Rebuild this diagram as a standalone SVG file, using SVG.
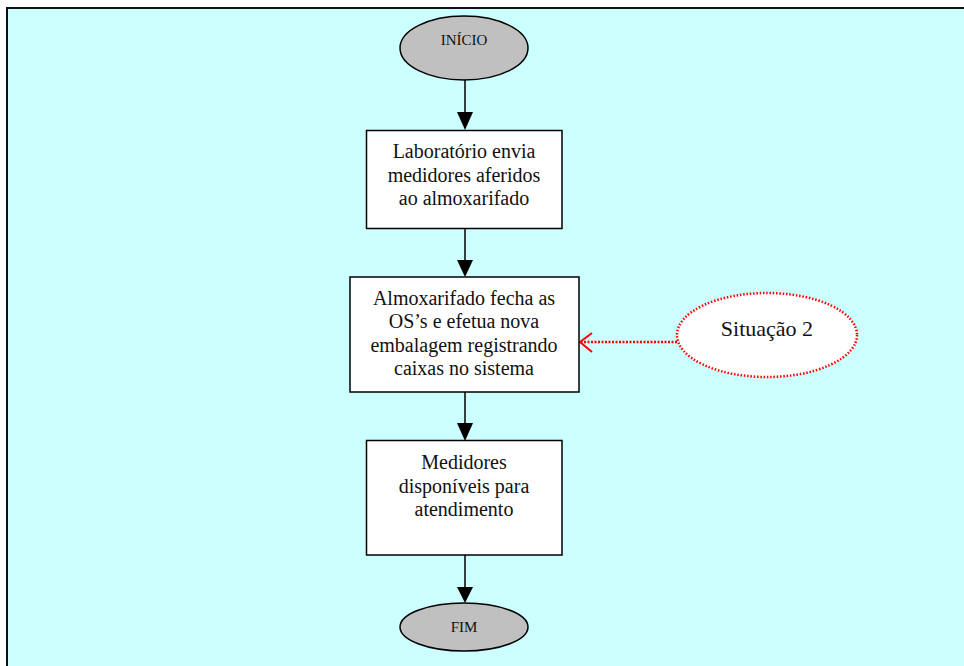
<svg xmlns="http://www.w3.org/2000/svg" width="964" height="666" viewBox="0 0 964 666">
  <style>
    text { font-family: "Liberation Serif", "Times New Roman", serif; fill: #111; text-anchor: middle; }
    .term { fill: #c0c0c0; stroke: #000; stroke-width: 1.5; }
    .box { fill: #fff; stroke: #000; stroke-width: 1.5; }
    .flow { stroke: #000; stroke-width: 1.5; fill: none; }
    .head { fill: #000; }
    .note { fill: #fff; stroke: #f00; stroke-width: 2.5; stroke-dasharray: 1.5 1.8; }
    .dep { stroke: #f00; stroke-width: 2.5; stroke-dasharray: 2 1.5; fill: none; }
    .big { font-size: 20px; }
    .small { font-size: 15px; }
  </style>

  <!-- page background and frame -->
  <rect x="0" y="0" width="964" height="666" fill="#fff"/>
  <rect x="7" y="8" width="970" height="670" fill="#ccffff" stroke="#111" stroke-width="2"/>

  <!-- connectors -->
  <g id="connectors">
    <line class="flow" x1="465" y1="80" x2="465" y2="113"/>
    <path class="head" d="M457 112 L473 112 L465 130 Z"/>
    <line class="flow" x1="465" y1="228" x2="465" y2="261"/>
    <path class="head" d="M457 260 L473 260 L465 277 Z"/>
    <line class="flow" x1="465" y1="392" x2="465" y2="424"/>
    <path class="head" d="M457 423 L473 423 L465 441 Z"/>
    <line class="flow" x1="465" y1="555" x2="465" y2="588"/>
    <path class="head" d="M457 587 L473 587 L465 603 Z"/>
    <!-- dotted reference from the note -->
    <line class="dep" x1="677" y1="342" x2="581" y2="342"/>
    <polyline points="592,333 580,342 592,352" fill="none" stroke="#f00" stroke-width="2"/>
  </g>

  <g id="inicio">
    <ellipse class="term" cx="464" cy="48" rx="64" ry="32"/>
    <text class="small" x="464" y="45">INÍCIO</text>
  </g>

  <g id="laboratorio">
    <rect class="box" x="366.5" y="130.5" width="195.5" height="98"/>
    <text class="big" x="464" y="158">Laboratório envia</text>
    <text class="big" x="464" y="182">medidores aferidos</text>
    <text class="big" x="464" y="205">ao almoxarifado</text>
  </g>

  <g id="almoxarifado">
    <rect class="box" x="350" y="277" width="229" height="115"/>
    <text class="big" x="464" y="305">Almoxarifado fecha as</text>
    <text class="big" x="464" y="328">OS’s e efetua nova</text>
    <text class="big" x="464" y="352">embalagem registrando</text>
    <text class="big" x="464" y="375">caixas no sistema</text>
  </g>

  <g id="medidores">
    <rect class="box" x="366.5" y="440.5" width="195.5" height="114.5"/>
    <text class="big" x="464" y="469">Medidores</text>
    <text class="big" x="464" y="493">disponíveis para</text>
    <text class="big" x="464" y="516">atendimento</text>
  </g>

  <g id="fim">
    <ellipse class="term" cx="464" cy="627" rx="64" ry="24"/>
    <text class="small" x="464" y="632">FIM</text>
  </g>

  <g id="situacao2">
    <ellipse class="note" cx="767" cy="335" rx="90" ry="42"/>
    <text x="767" y="336" font-size="22">Situação 2</text>
  </g>
</svg>
